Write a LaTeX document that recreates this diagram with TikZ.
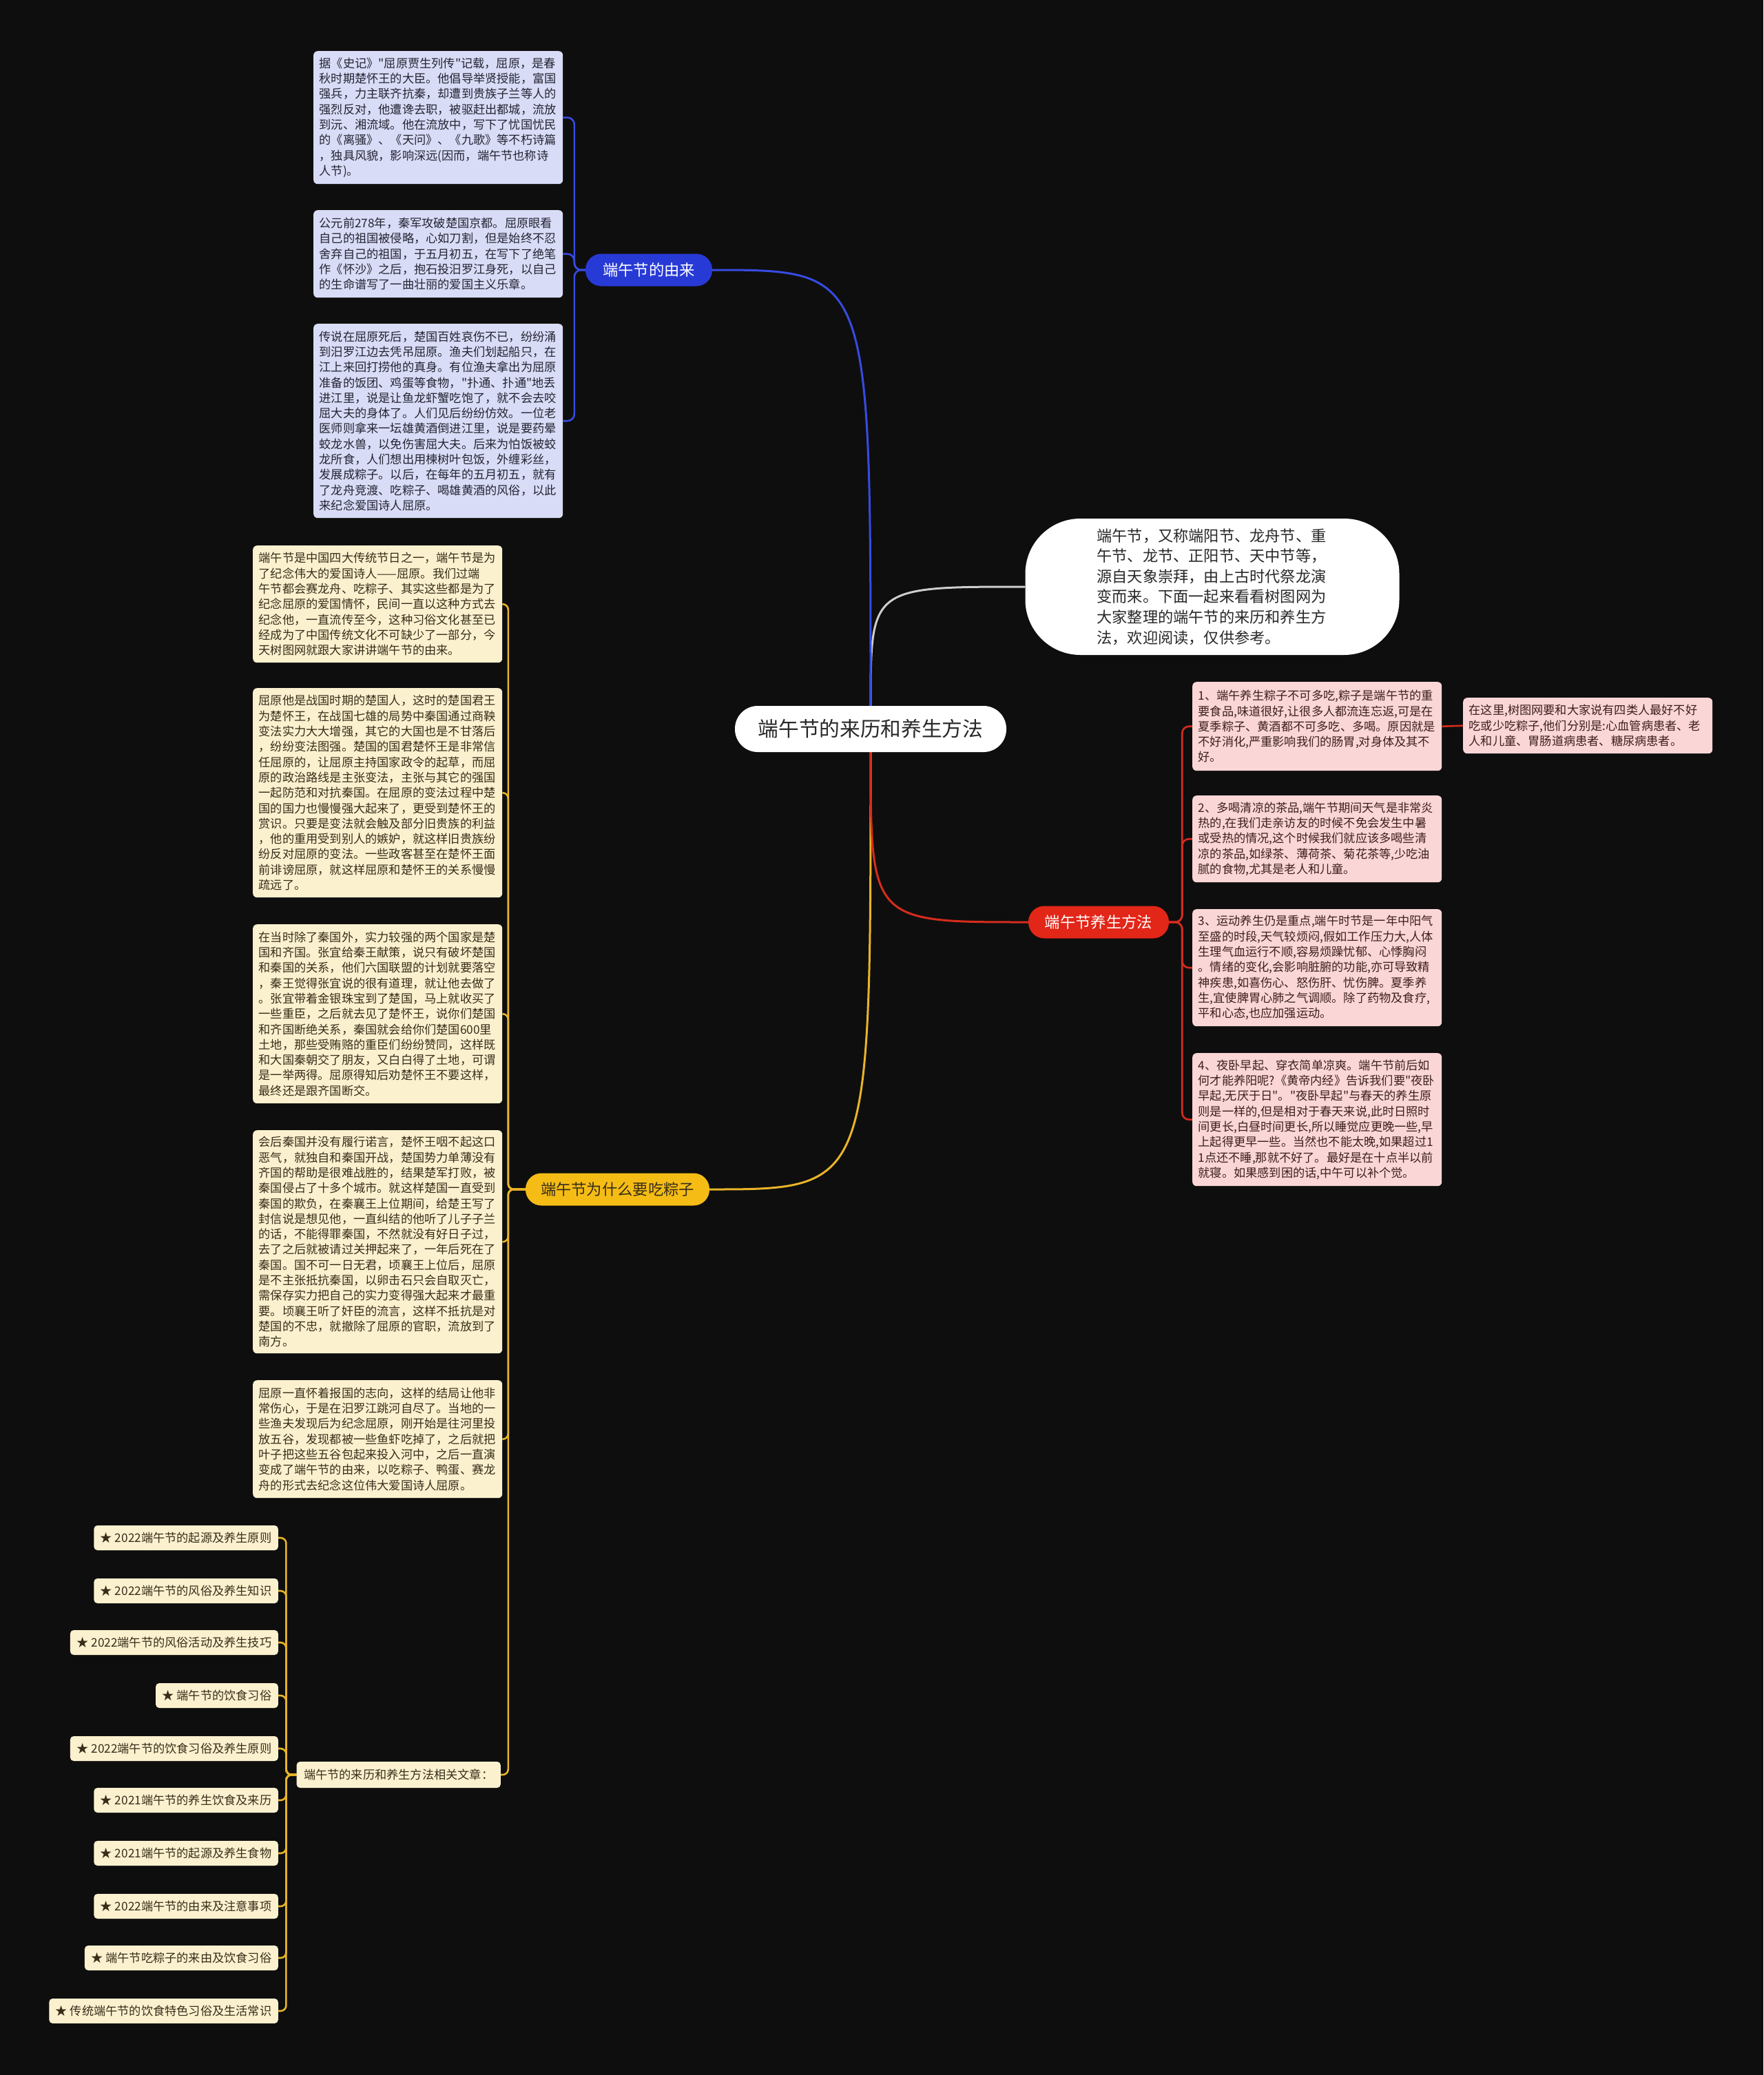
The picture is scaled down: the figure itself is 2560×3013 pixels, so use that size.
\documentclass[tikz,border=0pt]{standalone}
\usepackage{fontspec}
\newfontfamily\cjk{Noto Sans CJK SC}
\definecolor{bgc}{RGB}{14,14,14}
\definecolor{bluebr}{RGB}{40,58,214}
\definecolor{bluel}{RGB}{55,75,225}
\definecolor{bluebox}{RGB}{217,220,246}
\definecolor{bluetxt}{RGB}{35,35,50}
\definecolor{yelbr}{RGB}{245,188,22}
\definecolor{yell}{RGB}{232,180,40}
\definecolor{yelbox}{RGB}{252,241,207}
\definecolor{yeltxt}{RGB}{55,45,25}
\definecolor{redbr}{RGB}{226,38,24}
\definecolor{redl}{RGB}{214,44,30}
\definecolor{redbox}{RGB}{251,214,214}
\definecolor{redtxt}{RGB}{60,30,30}
\definecolor{graylink}{RGB}{205,205,205}
\definecolor{darktxt}{RGB}{40,40,40}
\pgfdeclarelayer{bgl}
\pgfdeclarelayer{lines}
\pgfsetlayers{bgl,lines,main}
\begin{document}
\begin{tikzpicture}[x=1pt,y=-1pt,
  leaf/.style={rounded corners=6pt, inner xsep=8.5pt, inner ysep=0pt, text width=345pt, align=left, anchor=north west, font=\cjk\fontsize{17.2}{22.3}\selectfont},
  bleaf/.style={leaf, fill=bluebox, text=bluetxt},
  yleaf/.style={leaf, fill=yelbox, text=yeltxt},
  rleaf/.style={leaf, fill=redbox, text=redtxt},
  branch/.style={rounded corners=23pt, minimum height=47pt, inner sep=0pt, font=\cjk\fontsize{22.3}{26}\selectfont},
  item/.style={fill=yelbox, text=yeltxt, rounded corners=5pt, anchor=east, minimum height=36pt, inner xsep=9.5pt, inner ysep=0pt, font=\cjk\fontsize{17.2}{20}\selectfont},
  mainlink/.style={line width=3pt},
  bline/.style={draw=bluel, line width=2.6pt, rounded corners=10pt},
  yline/.style={draw=yell, line width=2.6pt, rounded corners=8pt},
  rline/.style={draw=redl, line width=2.6pt, rounded corners=10pt}
]
\begin{pgfonlayer}{bgl}
\fill[bgc] (0,0) rectangle (2560,3013);
\end{pgfonlayer}
\useasboundingbox (0,0) rectangle (2560,3013);

% central
\node[fill=white, rounded corners=33pt, minimum width=394pt, minimum height=67pt, inner sep=0pt, text=darktxt, font=\cjk\fontsize{29.7}{34}\selectfont] (c) at (1264,1058.5) {端午节的来历和养生方法};

% intro bubble
\node[fill=white, rounded corners=80pt, minimum width=543pt, minimum height=198pt, inner sep=0pt, text width=335pt, align=left, text=darktxt, font=\cjk\fontsize{22.2}{29.6}\selectfont] (intro) at (1760,852) {端午节，又称端阳节、龙舟节、重\\午节、龙节、正阳节、天中节等，\\源自天象崇拜，由上古时代祭龙演\\变而来。下面一起来看看树图网为\\大家整理的端午节的来历和养生方\\法，欢迎阅读，仅供参考。};

% branches
\node[branch, fill=bluebr, text=white, minimum width=184pt] (blue) at (942,392) {端午节的由来};
\node[branch, fill=yelbr, text=yeltxt, minimum width=267pt] (yel) at (896.5,1727) {端午节为什么要吃粽子};
\node[branch, fill=redbr, text=white, minimum width=204pt] (red) at (1595,1339) {端午节养生方法};

% blue leaves
\node[bleaf, minimum height=193pt] (b1) at (455,74) {据《史记》"屈原贾生列传"记载，屈原，是春\\秋时期楚怀王的大臣。他倡导举贤授能，富国\\强兵，力主联齐抗秦，却遭到贵族子兰等人的\\强烈反对，他遭谗去职，被驱赶出都城，流放\\到沅、湘流域。他在流放中，写下了忧国忧民\\的《离骚》、《天问》、《九歌》等不朽诗篇\\，独具风貌，影响深远(因而，端午节也称诗\\人节)。};
\node[bleaf, minimum height=127pt] (b2) at (455,305) {公元前278年，秦军攻破楚国京都。屈原眼看\\自己的祖国被侵略，心如刀割，但是始终不忍\\舍弃自己的祖国，于五月初五，在写下了绝笔\\作《怀沙》之后，抱石投汨罗江身死，以自己\\的生命谱写了一曲壮丽的爱国主义乐章。};
\node[bleaf, minimum height=282pt] (b3) at (455,470) {传说在屈原死后，楚国百姓哀伤不已，纷纷涌\\到汨罗江边去凭吊屈原。渔夫们划起船只，在\\江上来回打捞他的真身。有位渔夫拿出为屈原\\准备的饭团、鸡蛋等食物，"扑通、扑通"地丢\\进江里，说是让鱼龙虾蟹吃饱了，就不会去咬\\屈大夫的身体了。人们见后纷纷仿效。一位老\\医师则拿来一坛雄黄酒倒进江里，说是要药晕\\蛟龙水兽，以免伤害屈大夫。后来为怕饭被蛟\\龙所食，人们想出用楝树叶包饭，外缠彩丝，\\发展成粽子。以后，在每年的五月初五，就有\\了龙舟竞渡、吃粽子、喝雄黄酒的风俗，以此\\来纪念爱国诗人屈原。};

% yellow leaves
\node[yleaf, minimum height=170pt] (y1) at (367,792) {端午节是中国四大传统节日之一，端午节是为\\了纪念伟大的爱国诗人——屈原。我们过端\\午节都会赛龙舟、吃粽子、其实这些都是为了\\纪念屈原的爱国情怀，民间一直以这种方式去\\纪念他，一直流传至今，这种习俗文化甚至已\\经成为了中国传统文化不可缺少了一部分，今\\天树图网就跟大家讲讲端午节的由来。};
\node[yleaf, minimum height=304pt] (y2) at (367,999) {屈原他是战国时期的楚国人，这时的楚国君王\\为楚怀王，在战国七雄的局势中秦国通过商鞅\\变法实力大大增强，其它的大国也是不甘落后\\，纷纷变法图强。楚国的国君楚怀王是非常信\\任屈原的，让屈原主持国家政令的起草，而屈\\原的政治路线是主张变法，主张与其它的强国\\一起防范和对抗秦国。在屈原的变法过程中楚\\国的国力也慢慢强大起来了，更受到楚怀王的\\赏识。只要是变法就会触及部分旧贵族的利益\\，他的重用受到别人的嫉妒，就这样旧贵族纷\\纷反对屈原的变法。一些政客甚至在楚怀王面\\前诽谤屈原，就这样屈原和楚怀王的关系慢慢\\疏远了。};
\node[yleaf, minimum height=260pt] (y3) at (367,1342) {在当时除了秦国外，实力较强的两个国家是楚\\国和齐国。张宜给秦王献策，说只有破坏楚国\\和秦国的关系，他们六国联盟的计划就要落空\\，秦王觉得张宜说的很有道理，就让他去做了\\。张宜带着金银珠宝到了楚国，马上就收买了\\一些重臣，之后就去见了楚怀王，说你们楚国\\和齐国断绝关系，秦国就会给你们楚国600里\\土地，那些受贿赂的重臣们纷纷赞同，这样既\\和大国秦朝交了朋友，又白白得了土地，可谓\\是一举两得。屈原得知后劝楚怀王不要这样，\\最终还是跟齐国断交。};
\node[yleaf, minimum height=324pt] (y4) at (367,1641) {会后秦国并没有履行诺言，楚怀王咽不起这口\\恶气，就独自和秦国开战，楚国势力单薄没有\\齐国的帮助是很难战胜的，结果楚军打败，被\\秦国侵占了十多个城市。就这样楚国一直受到\\秦国的欺负，在秦襄王上位期间，给楚王写了\\封信说是想见他，一直纠结的他听了儿子子兰\\的话，不能得罪秦国，不然就没有好日子过，\\去了之后就被请过关押起来了，一年后死在了\\秦国。国不可一日无君，顷襄王上位后，屈原\\是不主张抵抗秦国，以卵击石只会自取灭亡，\\需保存实力把自己的实力变得强大起来才最重\\要。顷襄王听了奸臣的流言，这样不抵抗是对\\楚国的不忠，就撤除了屈原的官职，流放到了\\南方。};
\node[yleaf, minimum height=171pt] (y5) at (367,2004) {屈原一直怀着报国的志向，这样的结局让他非\\常伤心，于是在汨罗江跳河自尽了。当地的一\\些渔夫发现后为纪念屈原，刚开始是往河里投\\放五谷，发现都被一些鱼虾吃掉了，之后就把\\叶子把这些五谷包起来投入河中，之后一直演\\变成了端午节的由来，以吃粽子、鸭蛋、赛龙\\舟的形式去纪念这位伟大爱国诗人屈原。};

% related articles
\node[item, inner xsep=10.5pt, minimum height=38pt] (rel) at (727,2577) {端午节的来历和养生方法相关文章：};
\node[item] (a1) at (404,2233) {★ 2022端午节的起源及养生原则};
\node[item] (a2) at (404,2310) {★ 2022端午节的风俗及养生知识};
\node[item] (a3) at (404,2385) {★ 2022端午节的风俗活动及养生技巧};
\node[item] (a4) at (404,2462) {★ 端午节的饮食习俗};
\node[item] (a5) at (404,2539) {★ 2022端午节的饮食习俗及养生原则};
\node[item] (a6) at (404,2614) {★ 2021端午节的养生饮食及来历};
\node[item] (a7) at (404,2691) {★ 2021端午节的起源及养生食物};
\node[item] (a8) at (404,2768) {★ 2022端午节的由来及注意事项};
\node[item] (a9) at (404,2843) {★ 端午节吃粽子的来由及饮食习俗};
\node[item] (a10) at (404,2920) {★ 传统端午节的饮食特色习俗及生活常识};

% red leaves
\node[rleaf, minimum height=129pt] (r1) at (1731,990) {1、端午养生粽子不可多吃,粽子是端午节的重\\要食品,味道很好,让很多人都流连忘返,可是在\\夏季粽子、黄酒都不可多吃、多喝。原因就是\\不好消化,严重影响我们的肠胃,对身体及其不\\好。};
\node[rleaf, minimum height=81pt] (rs) at (2124,1013) {在这里,树图网要和大家说有四类人最好不好\\吃或少吃粽子,他们分别是:心血管病患者、老\\人和儿童、胃肠道病患者、糖尿病患者。};
\node[rleaf, minimum height=126pt] (r2) at (1731,1155) {2、多喝清凉的茶品,端午节期间天气是非常炎\\热的,在我们走亲访友的时候不免会发生中暑\\或受热的情况,这个时候我们就应该多喝些清\\凉的茶品,如绿茶、薄荷茶、菊花茶等,少吃油\\腻的食物,尤其是老人和儿童。};
\node[rleaf, minimum height=170pt] (r3) at (1731,1320) {3、运动养生仍是重点,端午时节是一年中阳气\\至盛的时段,天气较烦闷,假如工作压力大,人体\\生理气血运行不顺,容易烦躁忧郁、心悸胸闷\\。情绪的变化,会影响脏腑的功能,亦可导致精\\神疾患,如喜伤心、怒伤肝、忧伤脾。夏季养\\生,宜使脾胃心肺之气调顺。除了药物及食疗,\\平和心态,也应加强运动。};
\node[rleaf, minimum height=193pt] (r4) at (1731,1529) {4、夜卧早起、穿衣简单凉爽。端午节前后如\\何才能养阳呢?《黄帝内经》告诉我们要"夜卧\\早起,无厌于日"。"夜卧早起"与春天的养生原\\则是一样的,但是相对于春天来说,此时日照时\\间更长,白昼时间更长,所以睡觉应更晚一些,早\\上起得更早一些。当然也不能太晚,如果超过1\\1点还不睡,那就不好了。最好是在十点半以前\\就寝。如果感到困的话,中午可以补个觉。};

% connectors
\begin{pgfonlayer}{lines}
\draw[graylink, mainlink] (c.north) .. controls (c.north |- intro.west) and (c.north |- intro.west) .. (intro.west);
\draw[bluel, mainlink] (c.north) .. controls (c.north |- blue.east) and (c.north |- blue.east) .. (blue.east);
\draw[yell, mainlink] (c.south) .. controls (c.south |- yel.east) and (c.south |- yel.east) .. (yel.east);
\draw[redl, mainlink] (c.south) .. controls (c.south |- red.west) and (c.south |- red.west) .. (red.west);
\foreach \n in {b1,b2,b3} \draw[bline] (blue.west) -- ++(-16,0) |- (\n.east);
\foreach \n in {y1,y2,y3,y4,y5,rel} \draw[yline] (yel.west) -- ++(-25,0) |- (\n.east);
\foreach \n in {a1,a2,a3,a4,a5,a6,a7,a8,a9,a10} \draw[yline] (rel.west) -- ++(-15,0) |- (\n.east);
\foreach \n in {r1,r2,r3,r4} \draw[rline] (red.east) -- ++(19,0) |- (\n.west);
\draw[redl, line width=2.6pt] (r1.east) -- (rs.west);
\end{pgfonlayer}
\end{tikzpicture}
\end{document}
